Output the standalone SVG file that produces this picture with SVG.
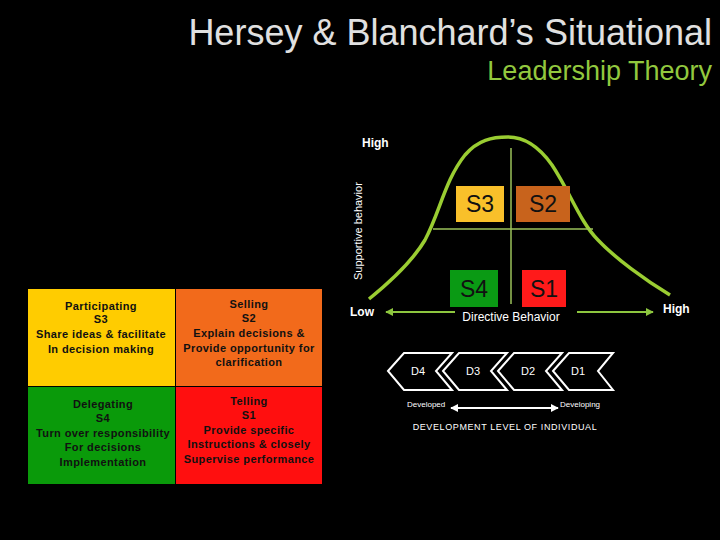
<svg xmlns="http://www.w3.org/2000/svg" width="720" height="540" viewBox="0 0 720 540">
<defs>
<style>
text{font-family:"Liberation Sans",Arial,sans-serif}
.grid{font-size:11px;font-weight:bold;fill:#111;text-anchor:middle;letter-spacing:0.4px}
.s{font-size:23px;fill:#111;text-anchor:middle}
.w{fill:#fff}
.chev{fill:none;stroke:#fff;stroke-width:2;stroke-linejoin:miter}
.d{font-size:11px;fill:#fff;text-anchor:middle}
</style>
<marker id="ga" viewBox="0 0 10 10" refX="9" refY="5" markerWidth="4" markerHeight="4" orient="auto-start-reverse"><path d="M0,0 L10,5 L0,10 z" fill="#8dc63f"/></marker>
<marker id="wa" viewBox="0 0 10 10" refX="9" refY="5" markerWidth="4" markerHeight="4" orient="auto-start-reverse"><path d="M0,0 L10,5 L0,10 z" fill="#fff"/></marker>
</defs>
<rect width="720" height="540" fill="#000"/>
<g id="title">
<text x="712" y="45" font-size="36" fill="#e0e0e0" text-anchor="end">Hersey &amp; Blanchard’s Situational</text>
<text x="712" y="80" font-size="27" fill="#92c83e" text-anchor="end">Leadership Theory</text>
</g>
<g id="grid">
<g id="participating"><rect x="28" y="289" width="147" height="97" fill="#ffcc00"/>
<text class="grid" x="101" y="310">Participating</text><text class="grid" x="101" y="323">S3</text><text class="grid" x="101" y="338">Share ideas &amp; facilitate</text><text class="grid" x="101" y="353">In decision making</text></g>
<g id="selling"><rect x="176" y="289" width="146" height="97" fill="#f26a1b"/>
<text class="grid" x="249" y="308">Selling</text><text class="grid" x="249" y="322">S2</text><text class="grid" x="249" y="337">Explain decisions &amp;</text><text class="grid" x="249" y="352">Provide opportunity for</text><text class="grid" x="249" y="366">clarification</text></g>
<g id="delegating"><rect x="28" y="387" width="147" height="97" fill="#0a9a0a"/>
<text class="grid" x="103" y="408">Delegating</text><text class="grid" x="103" y="422">S4</text><text class="grid" x="103" y="437">Turn over responsibility</text><text class="grid" x="103" y="451">For decisions</text><text class="grid" x="103" y="466">Implementation</text></g>
<g id="telling"><rect x="176" y="387" width="146" height="97" fill="#ff0f0f"/>
<text class="grid" x="249" y="405">Telling</text><text class="grid" x="249" y="419">S1</text><text class="grid" x="249" y="434">Provide specific</text><text class="grid" x="249" y="448">Instructions &amp; closely</text><text class="grid" x="249" y="463">Supervise performance</text></g>
</g>
<g id="connectors">
<path d="M369,299 C390,282 412,262 425,240 C440,212 445,180 465,155 C478,140 492,137 508,137 C525,137 540,148 552,165 C570,192 580,222 598,240 C615,258 645,280 670,295" fill="none" stroke="#9acd32" stroke-width="3.5"/>
<line x1="511" y1="148" x2="511" y2="304" stroke="#9bc25a" stroke-width="1.5"/>
<line x1="433" y1="229" x2="593" y2="229" stroke="#9bc25a" stroke-width="1.5"/>
<line x1="455" y1="312" x2="386" y2="312" stroke="#8dc63f" stroke-width="2" marker-end="url(#ga)"/>
<line x1="577" y1="312" x2="653" y2="312" stroke="#8dc63f" stroke-width="2" marker-end="url(#ga)"/>
<line x1="451" y1="408" x2="558" y2="408" stroke="#fff" stroke-width="2" marker-start="url(#wa)" marker-end="url(#wa)"/>
</g>
<g id="axes">
<text x="362" y="147" font-size="12" font-weight="bold" class="w">High</text>
<text transform="translate(362,280) rotate(-90)" font-size="11" class="w">Supportive behavior</text>
<text x="350" y="316" font-size="12" font-weight="bold" class="w">Low</text>
<text x="663" y="313" font-size="12" font-weight="bold" class="w">High</text>
<text x="511" y="321" font-size="12" class="w" text-anchor="middle">Directive Behavior</text>
</g>
<g id="s3"><rect x="456" y="186" width="48" height="36" fill="#f9c02a"/><text class="s" x="480" y="212">S3</text></g>
<g id="s2"><rect x="516" y="186" width="54" height="36" fill="#c8631c"/><text class="s" x="543" y="212">S2</text></g>
<g id="s4"><rect x="450" y="270" width="48" height="37" fill="#0a9a14"/><text class="s" x="474" y="297">S4</text></g>
<g id="s1"><rect x="522" y="270" width="44" height="37" fill="#ff1a1a"/><text class="s" x="544" y="297">S1</text></g>
<g id="d4"><polygon class="chev" points="388,371 404,353 452,353 436,371 452,390 404,390"/><text class="d" x="418" y="375">D4</text></g>
<g id="d3"><polygon class="chev" points="443,371 459,353 507,353 491,371 507,390 459,390"/><text class="d" x="473" y="375">D3</text></g>
<g id="d2"><polygon class="chev" points="498,371 514,353 562,353 546,371 562,390 514,390"/><text class="d" x="528" y="375">D2</text></g>
<g id="d1"><polygon class="chev" points="553,371 569,353 613,353 598,371 613,390 569,390"/><text class="d" x="578" y="375">D1</text></g>
<g id="devlabels">
<text x="407" y="407" font-size="8" class="w">Developed</text>
<text x="560" y="407" font-size="8" class="w">Developing</text>
<text x="505" y="430" font-size="9" class="w" text-anchor="middle" letter-spacing="0.6">DEVELOPMENT LEVEL OF INDIVIDUAL</text>
</g>
</svg>
